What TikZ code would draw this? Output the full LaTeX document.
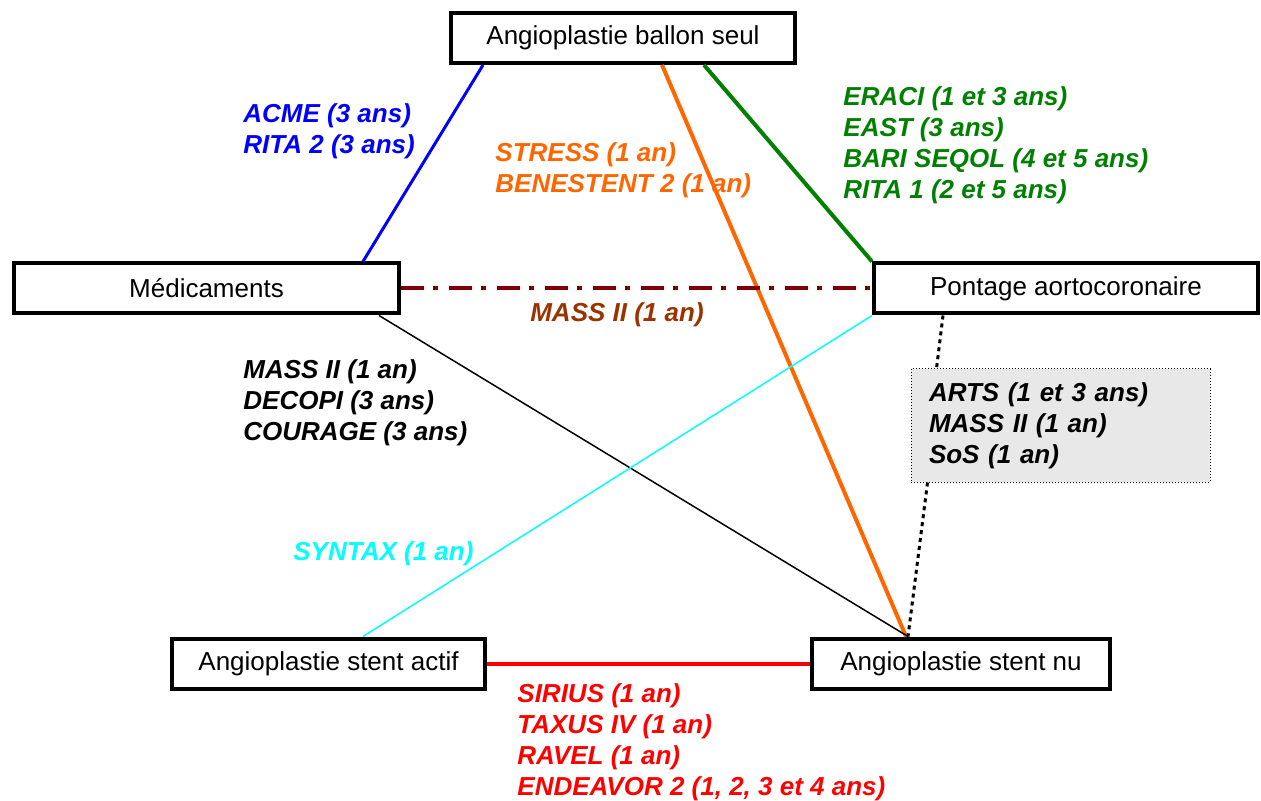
\documentclass[tikz,border=0pt]{standalone}
\usepackage{fontspec}
\setmainfont{Liberation Sans}
\definecolor{orangeligne}{RGB}{255,102,0}
\definecolor{vertligne}{RGB}{0,128,0}
\definecolor{bordeaux}{RGB}{128,0,0}
\definecolor{brun}{RGB}{153,51,0}
\definecolor{cyanligne}{RGB}{0,255,255}
\definecolor{grisclair}{RGB}{232,232,232}
\begin{document}
\begin{tikzpicture}[x=0.5pt,y=-0.5pt,
  box/.style={draw, line width=2pt, inner sep=0pt, minimum height=25pt, font=\fontsize{13}{15.5}\selectfont},
  etude/.style={anchor=north west, inner sep=0pt, align=left, font=\fontsize{13}{15.5}\selectfont\bfseries\itshape}]
\useasboundingbox (0,0) rectangle (1261,801);

\node[box, minimum width=172pt] (bal) at (623,38) {Angioplastie ballon seul};
\node[box, minimum width=192.5pt] (med) at (206.5,288.5) {Médicaments};
\node[box, minimum width=192pt] (pac) at (1066,288.5) {Pontage aortocoronaire};
\node[box, minimum width=156.5pt] (actif) at (328.5,663.5) {Angioplastie stent actif};
\node[box, minimum width=149pt] (nu) at (961,663.5) {Angioplastie stent nu};
\node[etude, anchor=center, draw, densely dotted, line width=0.5pt, fill=grisclair,
  text width=131.5pt, inner xsep=9pt, minimum height=56.5pt] (gris) at (1060.5,425.5)
  {ARTS (1 et 3 ans)\\MASS II (1 an)\\SoS (1 an)};

\path[draw,blue,line width=1.5pt] ([xshift=17pt]bal.south west) -- ([xshift=-19pt]med.north east);
\path[draw,orangeligne,line width=2pt] ([xshift=-67.5pt]bal.south east) -- ([xshift=48pt]nu.north west);
\path[draw,vertligne,line width=2pt] ([xshift=-46.5pt]bal.south east) -- (pac.north west);
\path[draw,bordeaux,line width=2pt,dash pattern=on 11.5pt off 4.5pt on 2.5pt off 5.5pt] (med.east) -- (pac.west);
\path[draw,line width=0.75pt] ([xshift=-11pt]med.south east) -- ([xshift=49pt]nu.north west);
\path[draw,cyanligne,line width=0.75pt] (pac.south west) -- ([xshift=96.5pt]actif.north west);
\path[draw,line width=1.5pt,dash pattern=on 2pt off 2pt] ([xshift=35.5pt]pac.south west) -- ([xshift=13pt]gris.north west);
\path[draw,line width=1.5pt,dash pattern=on 2pt off 2pt] ([xshift=8.5pt]gris.south west) -- ([xshift=49pt]nu.north west);
\path[draw,red,line width=2pt] (actif.east) -- (nu.west);

\node[etude, text=blue] (acme) at (243,103) {ACME (3 ans)\\RITA 2 (3 ans)};
\node[etude, text=orangeligne] (stress) at (495,142) {STRESS (1 an)\\BENESTENT 2 (1 an)};
\node[etude, text=vertligne] (eraci) at (843,86) {ERACI (1 et 3 ans)\\EAST (3 ans)\\BARI SEQOL (4 et 5 ans)\\RITA 1 (2 et 5 ans)};
\node[etude, anchor=center, text=brun] (mass) at (617,315) {MASS II (1 an)};
\node[etude] (decopi) at (243,359) {MASS II (1 an)\\DECOPI (3 ans)\\COURAGE (3 ans)};
\node[etude, text=cyanligne] (syntax) at (293,541.5) {SYNTAX (1 an)};
\node[etude, text=red] (sirius) at (517,683) {SIRIUS (1 an)\\TAXUS IV (1 an)\\RAVEL (1 an)\\ENDEAVOR 2 (1, 2, 3 et 4 ans)};
\end{tikzpicture}
\end{document}
